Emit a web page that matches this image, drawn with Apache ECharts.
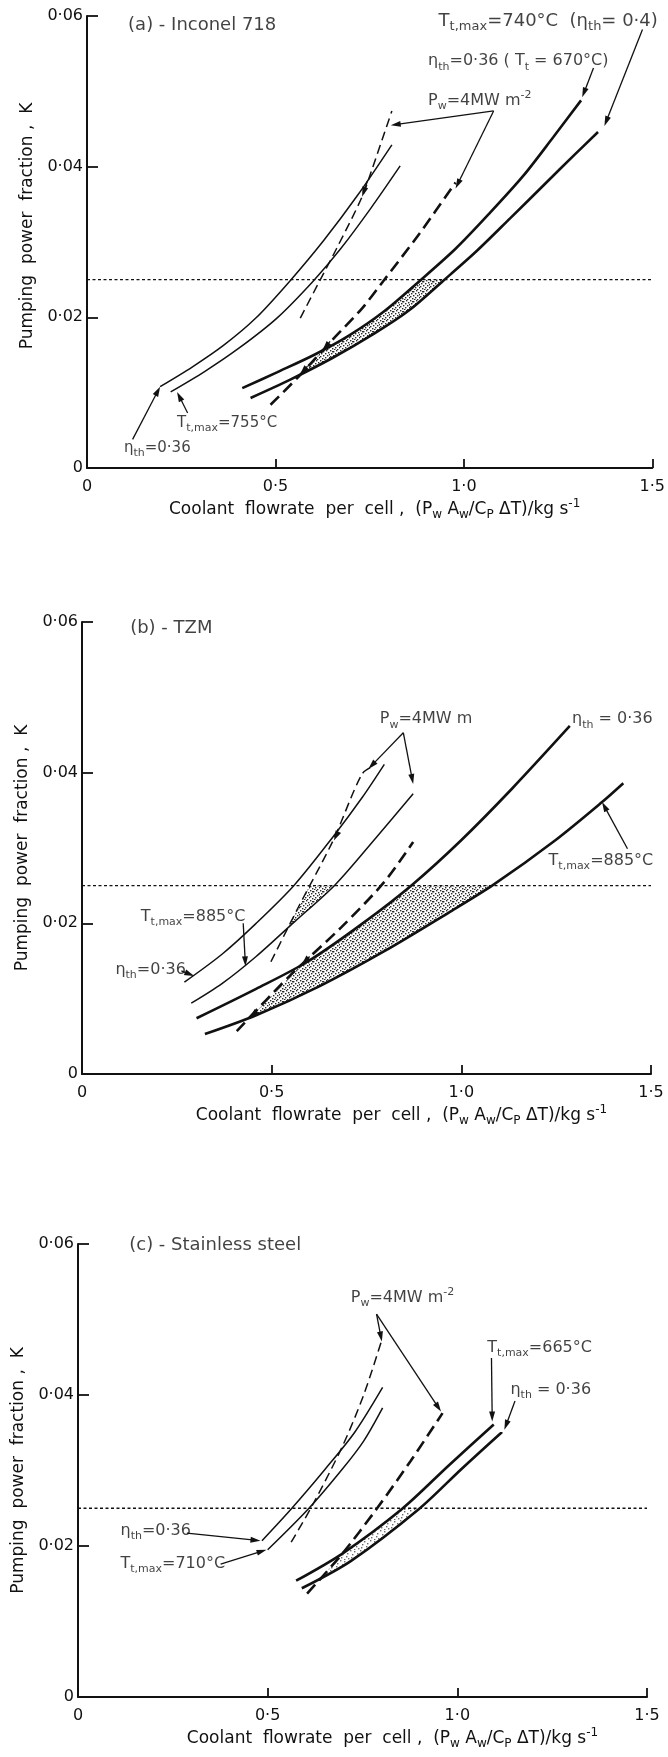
<!DOCTYPE html>
<html><head><meta charset="utf-8">
<script src="https://cdn.jsdelivr.net/npm/echarts@6/dist/echarts.min.js"></script>
<style>html,body{margin:0;padding:0;background:#fff}#c{width:668px;height:1757px}</style>
</head><body><div id="c"></div>
<script>
// ---------- axes ----------
const xTicks = [0, 0.5, 1.0, 1.5];
const xTickLabels = ['0', '0·5', '1·0', '1·5'];
const yTicks = [0, 0.02, 0.04, 0.06];
const yTickLabels = ['0', '0·02', '0·04', '0·06'];
const K_LIMIT = 0.025;

// ---------- panel (a) Inconel 718 ----------
const a_etaThin   = [[0.194,0.0108],[0.279,0.0134],[0.363,0.0163],[0.448,0.0199],[0.538,0.0248],[0.628,0.0302],[0.718,0.0362],[0.809,0.0429]];
const a_tmaxThin  = [[0.222,0.0101],[0.312,0.0128],[0.403,0.0159],[0.504,0.0199],[0.600,0.0248],[0.673,0.0291],[0.752,0.0344],[0.831,0.0401]];
const a_pwThin    = [[0.566,0.0199],[0.617,0.0248],[0.662,0.0291],[0.730,0.0360],[0.758,0.0399],[0.809,0.0474]];
const a_etaThick  = [[0.412,0.0106],[0.504,0.0127],[0.606,0.0151],[0.696,0.0176],[0.786,0.0207],[0.882,0.0248],[0.978,0.0291],[1.068,0.0338],[1.158,0.0388],[1.237,0.0439],[1.311,0.0488]];
const a_tmaxThick = [[0.434,0.0093],[0.538,0.0117],[0.651,0.0146],[0.764,0.0179],[0.854,0.0209],[0.944,0.0248],[1.034,0.0288],[1.124,0.0332],[1.215,0.0377],[1.294,0.0416],[1.356,0.0446]];
const a_pwThick   = [[0.487,0.0084],[0.561,0.0121],[0.651,0.0170],[0.730,0.0212],[0.786,0.0248],[0.882,0.0311],[0.978,0.0379]];
const a_shade     = [[0.565,0.0124],[0.625,0.0156],[0.696,0.0176],[0.786,0.0207],[0.882,0.025],[0.944,0.025],[0.854,0.0209],[0.764,0.0179],[0.651,0.0146],[0.565,0.0124]];
const a_labels = [
  ['(a) - Inconel 718', 0.109, 0.0587],
  ['T_{t,max}=740°C  (η_{th}= 0·4)', 0.933, 0.0593],
  ['η_{th}=0·36 ( T_{t} = 670°C)', 0.905, 0.0540],
  ['P_{w}=4MW m^{-2}', 0.905, 0.0488],
  ['T_{t,max}=755°C', 0.239, 0.0060],
  ['η_{th}=0·36', 0.098, 0.0026]
];
const a_arrows = [
  [[1.474,0.0582],[1.373,0.0454]],
  [[1.344,0.0531],[1.314,0.0492]],
  [[1.079,0.0474],[0.806,0.0455]],
  [[1.079,0.0474],[0.978,0.0371]],
  [[0.267,0.0073],[0.239,0.0101]],
  [[0.121,0.0038],[0.194,0.0108]],
  [[0.745,0.0382],[0.730,0.0360]],
  [[0.645,0.0168],[0.625,0.0156]],
  [[0.585,0.0135],[0.565,0.0124]]
];

// ---------- panel (b) TZM ----------
const b_etaThin   = [[0.270,0.0122],[0.369,0.0159],[0.459,0.0200],[0.560,0.0251],[0.662,0.0315],[0.740,0.0368],[0.797,0.0411]];
const b_tmaxThin  = [[0.288,0.0094],[0.369,0.0120],[0.459,0.0156],[0.560,0.0202],[0.667,0.0251],[0.774,0.0313],[0.873,0.0372]];
const b_pwThin    = [[0.498,0.0149],[0.572,0.0223],[0.662,0.0310],[0.738,0.0398],[0.769,0.0409]];
const b_etaThick  = [[0.302,0.0074],[0.459,0.0113],[0.594,0.0149],[0.740,0.0200],[0.870,0.0251],[0.999,0.0310],[1.134,0.0379],[1.286,0.0462]];
const b_tmaxThick = [[0.324,0.0053],[0.459,0.0078],[0.628,0.0117],[0.797,0.0163],[0.966,0.0214],[1.084,0.0251],[1.247,0.0310],[1.371,0.0361],[1.427,0.0386]];
const b_pwThick   = [[0.408,0.0057],[0.549,0.0131],[0.684,0.0195],[0.797,0.0255],[0.873,0.0308]];
const b_shade     = [[0.442,0.0074],[0.579,0.0145],[0.740,0.0200],[0.870,0.025],[1.084,0.025],[0.966,0.0214],[0.797,0.0163],[0.628,0.0117],[0.459,0.0078],[0.442,0.0074]];
const b_shade2    = [[0.544,0.0195],[0.600,0.025],[0.667,0.025],[0.560,0.0202],[0.544,0.0195]];
const b_labels = [
  ['(b) - TZM', 0.127, 0.0591],
  ['P_{w}=4MW m', 0.785, 0.0471],
  ['η_{th} = 0·36', 1.292, 0.0471],
  ['T_{t,max}=885°C', 1.230, 0.0283],
  ['T_{t,max}=885°C', 0.155, 0.0209],
  ['η_{th}=0·36', 0.088, 0.0138]
];
const b_arrows = [
  [[0.847,0.0453],[0.755,0.0405]],
  [[0.847,0.0453],[0.873,0.0385]],
  [[1.438,0.0299],[1.371,0.0361]],
  [[0.425,0.0200],[0.431,0.0143]],
  [[0.262,0.0137],[0.296,0.0130]],
  [[0.600,0.0156],[0.579,0.0145]],
  [[0.462,0.0084],[0.442,0.0074]],
  [[0.676,0.0322],[0.664,0.0310]]
];

// ---------- panel (c) Stainless steel ----------
const c_etaThin   = [[0.485,0.0207],[0.562,0.0249],[0.652,0.0302],[0.730,0.0351],[0.803,0.0410]];
const c_tmaxThin  = [[0.500,0.0195],[0.607,0.0249],[0.697,0.0302],[0.753,0.0339],[0.803,0.0383]];
const c_pwThin    = [[0.562,0.0205],[0.618,0.0254],[0.697,0.0332],[0.753,0.0400],[0.801,0.0473]];
const c_tmaxThick = [[0.575,0.0154],[0.697,0.0190],[0.854,0.0249],[0.978,0.0307],[1.096,0.0361]];
const c_etaThick  = [[0.590,0.0144],[0.719,0.0180],[0.899,0.0249],[1.011,0.0302],[1.118,0.0351]];
const c_pwThick   = [[0.604,0.0137],[0.697,0.0190],[0.787,0.0249],[0.876,0.0312],[0.961,0.0376]];
const c_shade     = [[0.642,0.0159],[0.697,0.0190],[0.776,0.0220],[0.854,0.025],[0.899,0.025],[0.810,0.0213],[0.719,0.0180],[0.642,0.0159]];
const c_labels = [
  ['(c) - Stainless steel', 0.135, 0.0598],
  ['P_{w}=4MW m^{-2}', 0.719, 0.0529],
  ['T_{t,max}=665°C', 1.079, 0.0463],
  ['η_{th} = 0·36', 1.140, 0.0407],
  ['η_{th}=0·36', 0.112, 0.0220],
  ['T_{t,max}=710°C', 0.112, 0.0176]
];
const c_arrows = [
  [[0.787,0.0507],[0.801,0.0471]],
  [[0.787,0.0507],[0.957,0.0378]],
  [[1.090,0.0449],[1.092,0.0365]],
  [[1.152,0.0392],[1.124,0.0354]],
  [[0.287,0.0217],[0.481,0.0207]],
  [[0.376,0.0176],[0.497,0.0195]]
];

// ---------- styling / layout ----------
const FONT = 'DejaVu Sans';
const INK = '#111';
const GRIDS = [
  {left: 87, top: 16, width: 568, height: 452},
  {left: 82, top: 622, width: 569, height: 452},
  {left: 78, top: 1244, width: 569, height: 453}
];
const Y_NAME_GAP = [42, 46, 51];
const X_NAME_PAD = [10, 70, 60];
const LABEL_SIZES = [[18, 18, 16, 16, 15, 15], [18, 16, 16, 16, 16, 16], [18, 16, 16, 16, 16, 16]];

const THIN = {width: 1.5, type: 'solid'};
const THICK = {width: 2.6, type: 'solid'};
const THIN_DASH = {width: 1.5, type: [9, 5]};
const THICK_DASH = {width: 2.6, type: [12, 6]};

const panels = [
  {curves: [[a_etaThin, THIN], [a_tmaxThin, THIN], [a_pwThin, THIN_DASH], [a_etaThick, THICK], [a_tmaxThick, THICK], [a_pwThick, THICK_DASH]],
   shades: [[a_shade, 'dark']], labels: a_labels, arrows: a_arrows},
  {curves: [[b_etaThin, THIN], [b_tmaxThin, THIN], [b_pwThin, THIN_DASH], [b_etaThick, THICK], [b_tmaxThick, THICK], [b_pwThick, THICK_DASH]],
   shades: [[b_shade, 'dark'], [b_shade2, 'dark']], labels: b_labels, arrows: b_arrows},
  {curves: [[c_etaThin, THIN], [c_tmaxThin, THIN], [c_pwThin, THIN_DASH], [c_tmaxThick, THICK], [c_etaThick, THICK], [c_pwThick, THICK_DASH]],
   shades: [[c_shade, 'light']], labels: c_labels, arrows: c_arrows}
];

function stipple(kind) {
  const n = 10;
  const cv = document.createElement('canvas');
  cv.width = n; cv.height = n;
  const g = cv.getContext('2d');
  g.fillStyle = kind === 'dark' ? '#2a2a2a' : '#6a6a6a';
  const pts = kind === 'dark'
    ? [[0,0],[3,1],[6,0],[8,2],[1,3],[5,3],[3,5],[7,5],[0,6],[5,7],[9,7],[2,8],[7,9],[4,9],[9,4],[2,1]]
    : [[0,0],[4,1],[7,3],[2,4],[6,6],[1,7],[8,8],[4,9]];
  pts.forEach(([x, y]) => g.fillRect(x, y, 1.4, 1.4));
  return {image: cv, repeat: 'repeat'};
}

function rich(str) {
  let s = str.replace(/_\{([^}]*)\}/g, '}{s|$1}{m|').replace(/\^\{([^}]*)\}/g, '}{u|$1}{m|');
  return ('{m|' + s + '}').replace(/\{m\|\}/g, '');
}
function richStyles(size) {
  const small = Math.round(size * 0.7);
  return {
    m: {fontSize: size, fontFamily: FONT, color: INK, lineHeight: size + 6},
    s: {fontSize: small, fontFamily: FONT, color: INK, verticalAlign: 'bottom', lineHeight: small + 1},
    u: {fontSize: small, fontFamily: FONT, color: INK, verticalAlign: 'top', lineHeight: small + 1}
  };
}
function tickLabel(ticks, labels) {
  return v => { const i = ticks.findIndex(t => Math.abs(t - v) < 1e-9); return i >= 0 ? labels[i] : ''; };
}

function arrowSeries(i, arrows) {
  return {
    type: 'custom', xAxisIndex: i, yAxisIndex: i, silent: true, z: 4, clip: false,
    encode: {x: [0, 2], y: [1, 3]},
    data: arrows.map(([f, t]) => [f[0], f[1], t[0], t[1]]),
    renderItem: (params, api) => {
      const p1 = api.coord([api.value(0), api.value(1)]);
      const p2 = api.coord([api.value(2), api.value(3)]);
      const dx = p2[0] - p1[0], dy = p2[1] - p1[1];
      const L = Math.hypot(dx, dy) || 1;
      const ux = dx / L, uy = dy / L, hl = 10, hw = 3;
      const bx = p2[0] - ux * hl, by = p2[1] - uy * hl;
      const children = [
        {type: 'polygon', shape: {points: [[p2[0], p2[1]], [bx - uy * hw, by + ux * hw], [bx + uy * hw, by - ux * hw]]},
         style: {fill: INK, stroke: null}}
      ];
      if (L > hl + 1) {
        children.push({type: 'line', shape: {x1: p1[0], y1: p1[1], x2: bx + ux * 2, y2: by + uy * 2},
          style: {stroke: INK, lineWidth: 1.3}});
      }
      return {type: 'group', children};
    }
  };
}

const grid = [], xAxis = [], yAxis = [], series = [];
panels.forEach((p, i) => {
  grid.push(Object.assign({containLabel: false}, GRIDS[i]));
  xAxis.push({
    type: 'value', gridIndex: i, min: xTicks[0], max: xTicks[xTicks.length - 1], interval: 0.5,
    axisLine: {show: true, onZero: false, lineStyle: {color: INK, width: 2}},
    axisTick: {show: true, inside: true, length: 9, customValues: xTicks.slice(1), lineStyle: {color: INK, width: 1.8}},
    axisLabel: {formatter: tickLabel(xTicks, xTickLabels), color: INK, fontSize: 16, fontFamily: FONT, margin: 11},
    splitLine: {show: false},
    name: rich('Coolant  flowrate  per  cell ,  (P_{w} A_{w}/C_{P} ΔT)/kg s^{-1}'),
    nameLocation: 'middle', nameGap: 30,
    nameTextStyle: {rich: richStyles(17), padding: [0, 0, 0, X_NAME_PAD[i]]}
  });
  yAxis.push({
    type: 'value', gridIndex: i, min: yTicks[0], max: yTicks[yTicks.length - 1], interval: 0.02,
    axisLine: {show: true, onZero: false, lineStyle: {color: INK, width: 2}},
    axisTick: {show: true, inside: true, length: 11, customValues: yTicks.slice(1), lineStyle: {color: INK, width: 1.8}},
    axisLabel: {formatter: tickLabel(yTicks, yTickLabels), color: INK, fontSize: 16, fontFamily: FONT, margin: 4},
    splitLine: {show: false},
    name: 'Pumping  power  fraction ,  K',
    nameLocation: 'middle', nameGap: Y_NAME_GAP[i],
    nameTextStyle: {color: INK, fontSize: 17, fontFamily: FONT, padding: i === 0 ? [0, 0, 0, 32] : 0}
  });

  p.shades.forEach(([poly, kind]) => {
    const fill = stipple(kind);
    series.push({
      type: 'custom', xAxisIndex: i, yAxisIndex: i, silent: true, z: 1,
      data: [poly[0]],
      renderItem: (params, api) => ({
        type: 'polygon',
        shape: {points: poly.map(pt => api.coord(pt))},
        style: {fill: fill, stroke: null}
      })
    });
  });

  series.push({
    type: 'line', xAxisIndex: i, yAxisIndex: i, silent: true, z: 2,
    data: [[xTicks[0], K_LIMIT], [xTicks[xTicks.length - 1], K_LIMIT]],
    showSymbol: false, lineStyle: {color: INK, width: 1.4, type: [3, 2.5]}
  });

  p.curves.forEach(([data, st]) => {
    series.push({
      type: 'line', xAxisIndex: i, yAxisIndex: i, silent: true, z: 3,
      data: data, smooth: 0.3, showSymbol: false,
      lineStyle: {color: INK, width: st.width, type: st.type, cap: 'butt'}
    });
  });

  series.push(arrowSeries(i, p.arrows));

  p.labels.forEach(([t, x, y], k) => {
    series.push({
      type: 'scatter', xAxisIndex: i, yAxisIndex: i, silent: true, z: 5, symbolSize: 0,
      data: [{name: rich(t), value: [x, y]}],
      label: {show: true, position: [0, 0], align: 'left', verticalAlign: 'middle',
        formatter: prm => prm.name, rich: richStyles(LABEL_SIZES[i][k])}
    });
  });
});

const chart = echarts.init(document.getElementById('c'), null, {renderer: 'canvas'});
chart.setOption({animation: false, backgroundColor: '#fff', grid, xAxis, yAxis, series});
</script>
</body></html>
